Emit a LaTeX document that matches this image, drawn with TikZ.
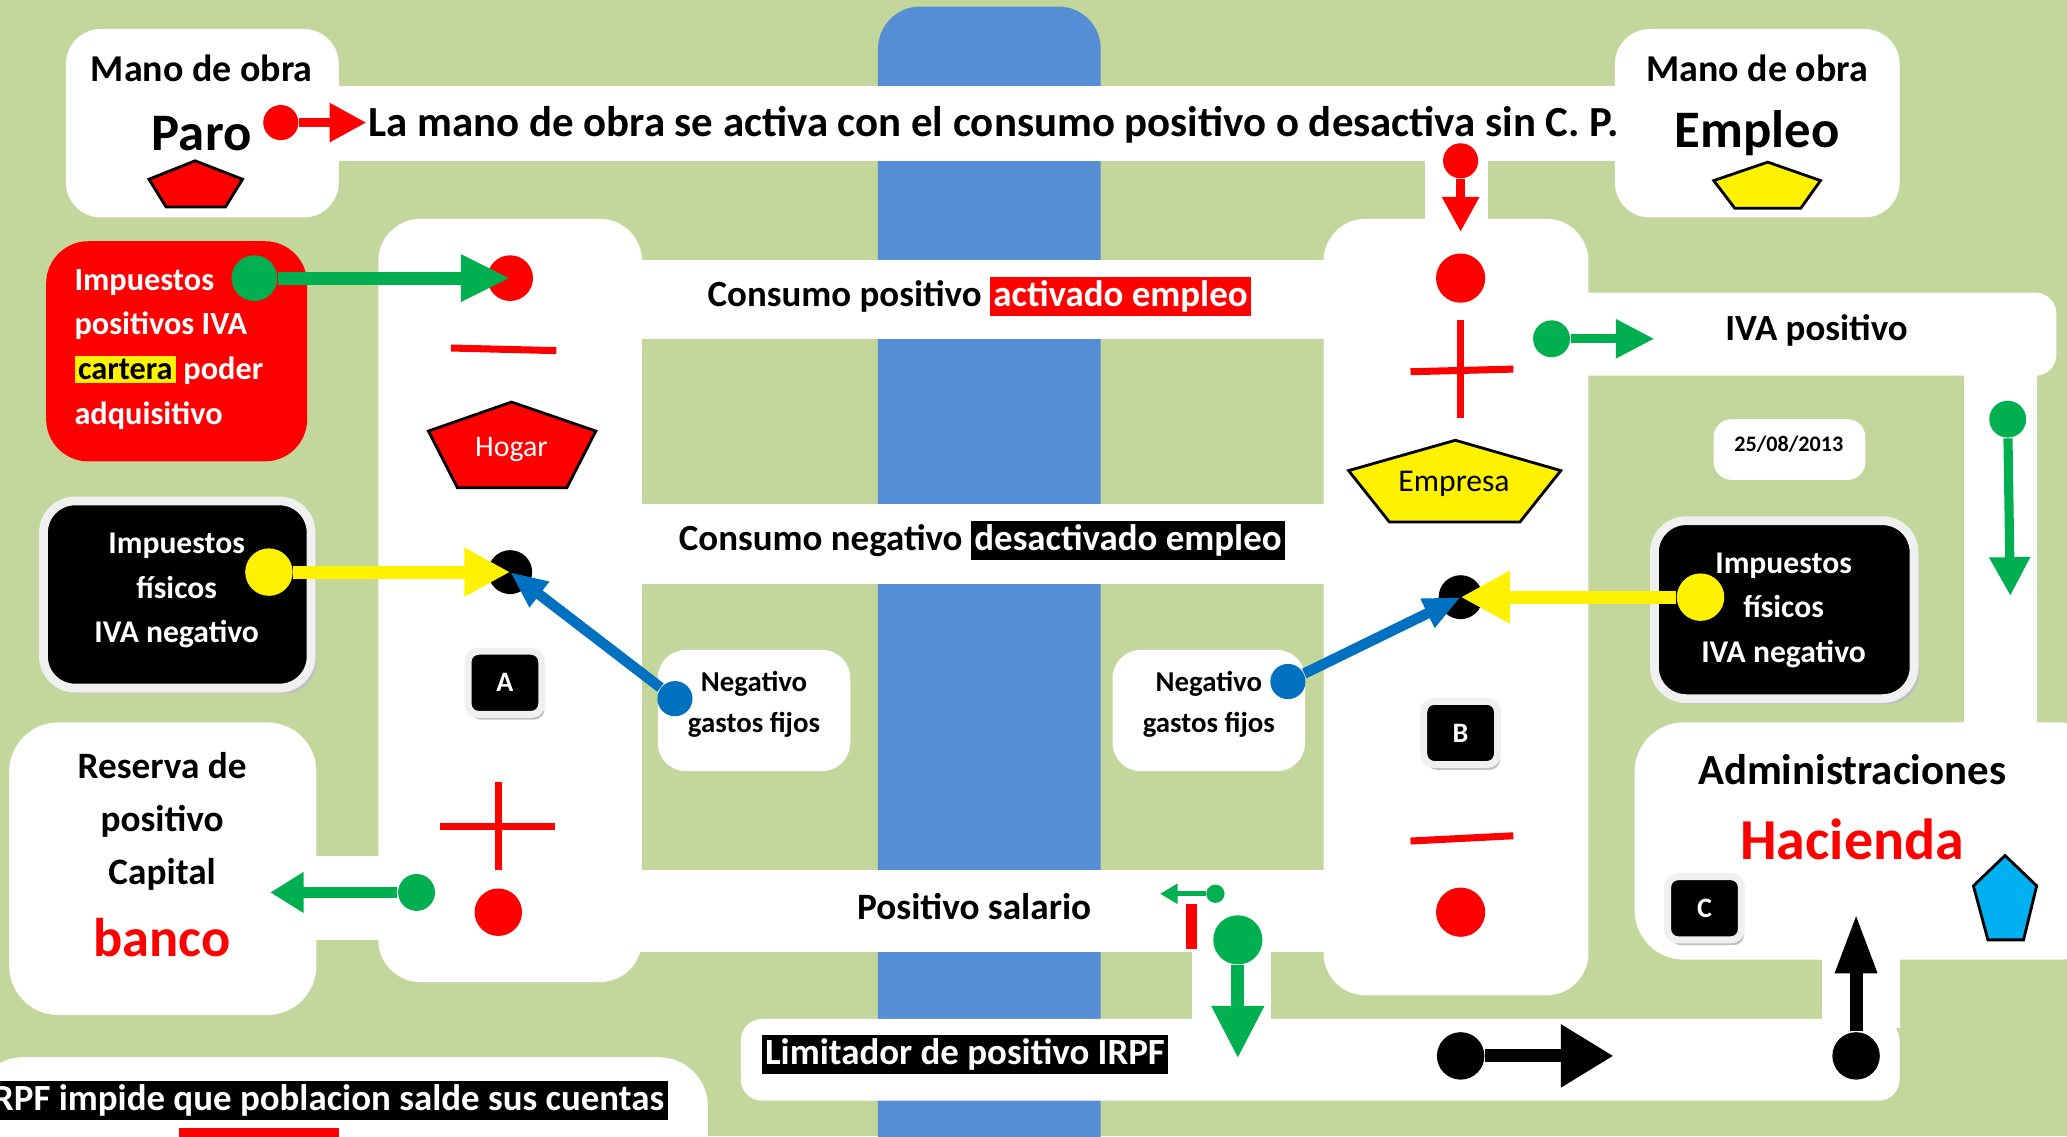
\documentclass[tikz,border=0pt]{standalone}
\usepackage{fontspec}
\setmainfont{Carlito}
\usetikzlibrary{arrows.meta}
\definecolor{campo}{HTML}{C3D69B}
\definecolor{rio}{HTML}{558ED5}
\definecolor{verde}{HTML}{00B050}
\definecolor{azul}{HTML}{0070C0}
\definecolor{celeste}{HTML}{00B0F0}
\newcommand{\tam}[2]{\fontsize{#1}{#2}\selectfont}
\newcommand{\resalta}[3]{{\setlength{\fboxsep}{1pt}\colorbox{#1}{\textcolor{#2}{#3}}}}
\tikzstyle{calle} = [fill=white]
\tikzstyle{bola} = [circle, inner sep=0pt]
\tikzstyle{caja} = [fill=black, draw=black!6, line width=2.5pt, rounded corners=9pt]
\tikzstyle{tecla} = [fill=black, draw=black!6, line width=2pt, rounded corners=3pt, minimum width=21pt, minimum height=18pt, text=white, font=\bfseries\tam{8}{9}]
\tikzstyle{sombra} = [fill=black!25, rounded corners=3pt, minimum width=21pt, minimum height=18pt]
\tikzstyle{signo} = [red, line width=2pt]
\tikzstyle{txt} = [inner sep=0pt, font=\bfseries\tam{10.5}{12}]

\begin{document}
\begin{tikzpicture}[x=0.013182cm, y=-0.013182cm]
  \useasboundingbox (0,0) rectangle (1568,862);
  \clip (0,0) rectangle (1568,862);
  \fill[campo] (0,0) rectangle (1568,862);
  \fill[rio, rounded corners=12pt] (666,5) rectangle (835,900);

  % calles
  \fill[calle, rounded corners=10pt] (50,22) rectangle (257,165);
  \fill[calle] (250,65) rectangle (1230,122);
  \fill[calle, rounded corners=10pt] (1225,22) rectangle (1441,165);
  \fill[calle] (1081,118) rectangle (1129,170);
  \fill[calle, rounded corners=12pt] (1004,166) rectangle (1205,755);
  \fill[calle, rounded corners=12pt] (287,166) rectangle (487,745);
  \fill[calle] (480,197) rectangle (1010,257);
  \fill[calle] (480,382) rectangle (1010,443);
  \fill[calle] (480,660) rectangle (1010,722);
  \fill[calle, rounded corners=6pt] (1190,222) rectangle (1560,285);
  \fill[calle] (1490,280) rectangle (1545,560);
  \fill[calle, rounded corners=14pt] (1240,548) rectangle (1600,728);
  \fill[calle] (1382,720) rectangle (1441,780);
  \fill[calle, rounded corners=6pt] (562,773) rectangle (1441,835);
  \fill[calle] (904,715) rectangle (964,780);
  \fill[calle, rounded corners=14pt] (7,548) rectangle (240,770);
  \fill[calle] (235,649) rectangle (292,713);
  \fill[calle, rounded corners=14pt] (-20,802) rectangle (537,900);
  \fill[calle, rounded corners=5pt] (1300,318) rectangle (1415,364);
  \fill[calle, rounded corners=8pt] (499,493) rectangle (645,585);
  \fill[calle, rounded corners=8pt] (844,493) rectangle (990,585);

  % cajas
  \fill[red, rounded corners=12pt] (35,183) rectangle (233,350);
  \fill[black!25, rounded corners=9pt] (37,384) rectangle (240,526);
  \draw[caja] (33,380) rectangle (236,522);
  \fill[black!25, rounded corners=9pt] (1259,399) rectangle (1456,534);
  \draw[caja] (1255,395) rectangle (1452,530);

  % pentagonos
  \filldraw[red, draw=black, line width=0.8pt] (148,122) -- (184,136) -- (171,157) -- (126,157) -- (113,136) -- cycle;
  \filldraw[yellow, draw=black, line width=0.8pt] (1341,123) -- (1381,137) -- (1366,158) -- (1316,158) -- (1300,137) -- cycle;
  \filldraw[red, draw=black, line width=0.8pt] (388,305) -- (452,327) -- (430,370) -- (347,370) -- (325,327) -- cycle;
  \filldraw[yellow, draw=black, line width=0.8pt] (1104,334) -- (1184,357) -- (1153,396) -- (1054,396) -- (1023,357) -- cycle;
  \filldraw[celeste, draw=black, line width=0.8pt] (1521,649) -- (1545,672) -- (1535,713) -- (1508,713) -- (1497,672) -- cycle;

  % signos
  \draw[signo] (342,264) -- (422,266);
  \draw[signo] (334,627) -- (421,627);
  \draw[signo] (378,593) -- (378,660);
  \draw[signo] (1070,282) -- (1148,280);
  \draw[signo] (1108,243) -- (1108,317);
  \draw[signo] (1070,638) -- (1148,634);
  \fill[red] (900,686) rectangle (908,720);

  % puntos
  \node[bola, fill=red, minimum width=12pt, minimum height=13pt] (hogarSup) at (387,211) {};
  \node[bola, fill=black, minimum size=12.5pt] (hogarNeg) at (387,434) {};
  \node[bola, fill=red, minimum size=13.5pt] (hogarInf) at (378,692) {};
  \node[bola, fill=red, minimum size=14pt] (empSup) at (1108,211) {};
  \node[bola, fill=black, minimum size=12.5pt] (empNeg) at (1108,453) {};
  \node[bola, fill=red, minimum size=14pt] (empInf) at (1108,692) {};

  % flechas
  \node[bola, fill=red, minimum size=10pt] (bParo) at (213,93) {};
  \coordinate (pParo) at (278,93);
  \draw[red, line width=2.6pt, -{Triangle[length=10.5pt,width=10.5pt]}] (bParo) -- (pParo);

  \node[bola, fill=red, minimum size=10pt] (bMano) at (1108,122) {};
  \coordinate (pMano) at (1108,176);
  \draw[red, line width=2.6pt, -{Triangle[length=10pt,width=10pt]}] (bMano) -- (pMano);

  \node[bola, fill=verde, minimum width=12.5pt, minimum height=13pt] (bImpPos) at (193,211) {};
  \draw[verde, line width=3.7pt, -{Triangle[length=14pt,width=12.5pt]}] (bImpPos) -- (hogarSup.center);

  \node[bola, fill=yellow, minimum size=13.5pt] (bImpIzq) at (204,434) {};
  \draw[yellow, line width=3.7pt, -{Triangle[length=13pt,width=13pt]}] (bImpIzq) -- (hogarNeg.center);

  \node[bola, fill=azul, minimum size=10pt] (bGastIzq) at (512,530) {};
  \draw[azul, line width=3pt, -{Triangle[length=10.5pt,width=8.5pt]}] (bGastIzq) -- (hogarNeg.center);

  \node[bola, fill=verde, minimum size=10.5pt] (bBanco) at (316,677) {};
  \coordinate (pBanco) at (205,677);
  \draw[verde, line width=3pt, -{Triangle[length=9.5pt,width=11pt]}] (bBanco) -- (pBanco);

  \node[bola, fill=verde, minimum size=10.5pt] (bIva) at (1177,257) {};
  \coordinate (pIva) at (1255,257);
  \draw[verde, line width=2.6pt, -{Triangle[length=11pt,width=10.5pt]}] (bIva) -- (pIva);

  \node[bola, fill=verde, minimum size=10.5pt] (bBaja) at (1523,318) {};
  \coordinate (pBaja) at (1525,452);
  \draw[verde, line width=2.6pt, -{Triangle[length=11pt,width=11pt]}] (bBaja) -- (pBaja);

  \node[bola, fill=yellow, minimum size=13.5pt] (bImpDer) at (1290,453) {};
  \draw[yellow, line width=3.7pt, -{Triangle[length=14pt,width=14pt]}] (bImpDer) -- (empNeg.center);

  \node[bola, fill=azul, minimum size=10pt] (bGastDer) at (977,517) {};
  \draw[azul, line width=3pt, -{Triangle[length=10.5pt,width=8.5pt]}] (bGastDer) -- (empNeg.center);

  \node[bola, fill=verde, minimum size=5.2pt] (bSal) at (922,678) {};
  \coordinate (pSal) at (880,678);
  \draw[verde, line width=1.5pt, -{Triangle[length=5pt,width=5.5pt]}] (bSal) -- (pSal);

  \node[bola, fill=verde, minimum size=14pt] (bIrpf) at (939,713) {};
  \coordinate (pIrpf) at (939,803);
  \draw[verde, line width=3.7pt, -{Triangle[length=15pt,width=14pt]}] (bIrpf) -- (pIrpf);

  \node[bola, fill=black, minimum size=13.5pt] (bLim) at (1108,801) {};
  \coordinate (pLim) at (1224,801);
  \draw[black, line width=3.7pt, -{Triangle[length=15pt,width=17pt]}] (bLim) -- (pLim);

  \node[bola, fill=black, minimum size=13.5pt] (bHac) at (1408,801) {};
  \coordinate (pHac) at (1408,693);
  \draw[black, line width=3.7pt, -{Triangle[length=17pt,width=11pt]}] (bHac) -- (pHac);

  % textos
  \node[txt, font=\bfseries\tam{10.8}{12}] (manoIzq) at (153,52) {Mano de obra};
  \node[txt, font=\bfseries\tam{15}{18}] (paro) at (153,101) {Paro};
  \node[txt, font=\bfseries\tam{12.2}{14}, anchor=west] (lema) at (279,95) {La mano de obra se activa con el consumo positivo o desactiva sin C. P.};
  \node[txt, font=\bfseries\tam{10.8}{12}] (manoDer) at (1333,52) {Mano de obra};
  \node[txt, font=\bfseries\tam{15}{18}] (empleo) at (1333,101) {Empleo};

  \node[txt, text=white, align=left, anchor=west, font=\bfseries\tam{9.2}{12.7}] (impPos) at (56,265)
    {Impuestos\\positivos IVA\\\resalta{yellow}{black}{cartera} poder\\adquisitivo};
  \node[txt, text=white, align=center, font=\bfseries\tam{9}{12.7}] (impIzq) at (134,448) {Impuestos\\físicos\\IVA negativo};
  \node[txt, text=white, align=center, font=\bfseries\tam{9}{12.7}] (impDer) at (1353,463) {Impuestos\\físicos\\IVA negativo};

  \node[txt] (consPos) at (743,225) {Consumo positivo \resalta{red}{white}{activado empleo}};
  \node[txt] (consNeg) at (745,410) {Consumo negativo \resalta{black}{white}{desactivado empleo}};
  \node[txt] (ivaPos) at (1378,251) {IVA positivo};
  \node[txt, font=\bfseries\tam{6.3}{8}] (fecha) at (1357,337) {25/08/2013};

  \node[txt, text=white, font=\tam{8.5}{10}] (hogar) at (388,341) {Hogar};
  \node[txt, font=\tam{9}{10}] (empresa) at (1103,367) {Empresa};

  \node[sombra] at (385,522) {};
  \node[tecla] (teclaA) at (383,518) {A};
  \node[sombra] at (1110,560) {};
  \node[tecla] (teclaB) at (1108,556) {B};
  \node[sombra] at (1295,693) {};
  \node[tecla] (teclaC) at (1293,689) {C};

  \node[txt, align=center, font=\bfseries\tam{8.2}{11.6}] (gastIzq) at (572,534) {Negativo\\gastos fijos};
  \node[txt, align=center, font=\bfseries\tam{8.2}{11.6}] (gastDer) at (917,534) {Negativo\\gastos fijos};

  \node[txt, align=center, font=\bfseries\tam{10.6}{15}] (reserva) at (123,623) {Reserva de\\positivo\\Capital};
  \node[txt, text=red, font=\bfseries\tam{15.5}{18}] (banco) at (123,711) {banco};

  \node[txt, font=\bfseries\tam{10.6}{12}] (salario) at (739,688) {Positivo salario};
  \node[txt, font=\bfseries\tam{10.5}{12}] (limitador) at (732,800) {\resalta{black}{white}{Limitador de positivo IRPF}};
  \node[txt, font=\bfseries\tam{10.5}{12}, anchor=east] (irpf) at (507,835) {\resalta{black}{white}{IRPF impide que poblacion salde sus cuentas}};
  \fill[red] (136,856) rectangle (257,870);

  \node[txt, font=\bfseries\tam{12.2}{14}] (admin) at (1405,584) {Administraciones};
  \node[txt, text=red, font=\bfseries\tam{16.5}{18}] (hacienda) at (1405,637) {Hacienda};
\end{tikzpicture}
\end{document}
